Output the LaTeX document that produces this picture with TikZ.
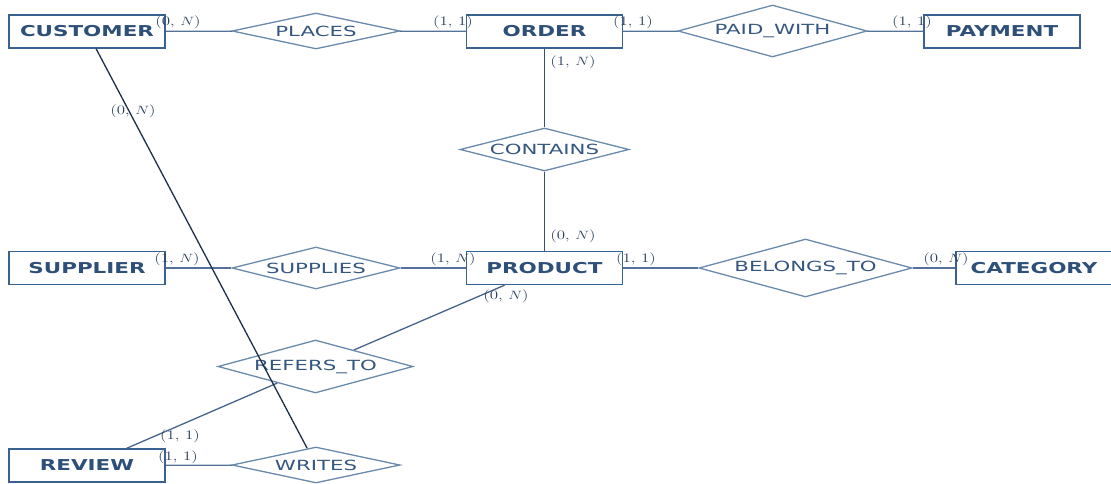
\documentclass[tikz,border=0pt]{standalone}
\usepackage{fontspec}
\usepackage{graphicx}
\usetikzlibrary{shapes.geometric}
\newfontfamily\entfont[FakeStretch=1.43]{DejaVu Sans}
\newfontfamily\relfont[FakeStretch=1.52]{DejaVu Sans}
\definecolor{entText}{HTML}{2D4F78}
\definecolor{entLine}{HTML}{3A6290}
\definecolor{relLine}{HTML}{6A8AAC}
\definecolor{relText}{HTML}{355680}
\definecolor{conLine}{HTML}{55739A}
\definecolor{darkLine}{HTML}{1C3048}
\definecolor{midLine}{HTML}{46648A}
\definecolor{lblText}{HTML}{2A3F5C}
\newcommand{\card}[1]{\scalebox{1.3}[1]{#1}}
\begin{document}
\begin{tikzpicture}[x=1pt,y=-1pt,
  entity/.style={draw=entLine,line width=1.4pt,minimum width=156pt,minimum height=33pt,inner sep=0pt,
    font=\entfont\bfseries\fontsize{15}{18}\selectfont,text=entText},
  rel/.style={draw=relLine,line width=1.3pt,shape=diamond,inner sep=0pt,
    font=\relfont\fontsize{14}{17}\selectfont,text=relText},
  conn/.style={draw=conLine,line width=1.3pt},
  lbl/.style={font=\fontsize{13}{15}\selectfont,text=lblText,inner sep=0pt}]
\useasboundingbox (0,0) rectangle (1111,484);
% entities
\node[entity] (customer) at (87,31.5) {CUSTOMER};
\node[entity] (order) at (544.5,31.5) {ORDER};
\node[entity] (payment) at (1002,31.5) {PAYMENT};
\node[entity] (supplier) at (87,268) {SUPPLIER};
\node[entity] (product) at (544.5,268) {PRODUCT};
\node[entity] (category) at (1034,268) {CATEGORY};
\node[entity] (review) at (87,465.5) {REVIEW};
% relationships
\node[rel,minimum width=168pt,minimum height=36pt,aspect=4.67] (places) at (316,31) {PLACES};
\node[rel,minimum width=189pt,minimum height=52pt,aspect=3.63] (paid) at (772.5,31) {PAID\_WITH};
\node[rel,minimum width=169pt,minimum height=43pt,aspect=3.93] (contains) at (544.5,149.5) {CONTAINS};
\node[rel,minimum width=168pt,minimum height=42pt,aspect=4] (supplies) at (316,268) {SUPPLIES};
\node[rel,minimum width=213pt,minimum height=58pt,aspect=3.67] (belongs) at (805.5,268) {BELONGS\_TO};
\node[rel,minimum width=195pt,minimum height=53pt,aspect=3.68] (refers) at (315.5,366.5) {REFERS\_TO};
\node[rel,minimum width=168pt,minimum height=36pt,aspect=4.67] (writes) at (316,465) {WRITES};
% connectors
\draw[conn] (customer) -- (places);
\draw[conn] (places) -- (order);
\draw[conn] (order) -- (paid);
\draw[conn] (paid) -- (payment);
\draw[conn,draw=midLine!80!black] (order) -- (contains);
\draw[conn,draw=midLine!80!black] (contains) -- (product);
\draw[conn] (supplier) -- (supplies);
\draw[conn] (supplies) -- (product);
\draw[conn] (product) -- (belongs);
\draw[conn] (belongs) -- (category);
\draw[conn,draw=midLine] (refers) -- (product);
\draw[conn,draw=midLine] (review) -- (refers);
\draw[conn] (review) -- (writes);
\draw[conn,draw=darkLine] (customer) -- (writes);
% cardinalities
\node[lbl] (c1) at (178,22) {\card{(0, $N$)}};
\node[lbl] (c2) at (453,22) {\card{(1, 1)}};
\node[lbl] (c3) at (633,22) {\card{(1, 1)}};
\node[lbl] (c4) at (912,22) {\card{(1, 1)}};
\node[lbl] (c5) at (573,62) {\card{(1, $N$)}};
\node[lbl] (c6) at (573,236) {\card{(0, $N$)}};
\node[lbl] (c7) at (177,259) {\card{(1, $N$)}};
\node[lbl] (c8) at (453,259) {\card{(1, $N$)}};
\node[lbl] (c9) at (636,259) {\card{(1, 1)}};
\node[lbl] (c10) at (946,259) {\card{(0, $N$)}};
\node[lbl] (c11) at (133,111) {\card{(0, $N$)}};
\node[lbl] (c12) at (506,296) {\card{(0, $N$)}};
\node[lbl] (c13) at (180,436) {\card{(1, 1)}};
\node[lbl] (c14) at (178,457) {\card{(1, 1)}};
\end{tikzpicture}
\end{document}
